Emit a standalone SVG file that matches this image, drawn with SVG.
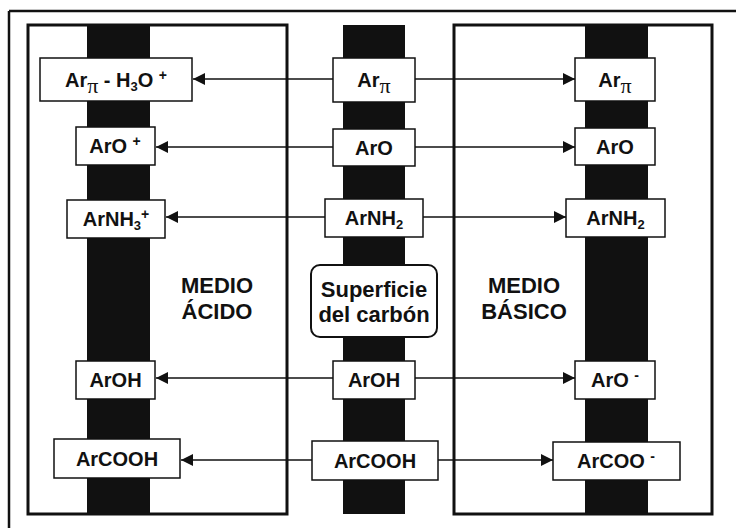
<svg xmlns="http://www.w3.org/2000/svg" width="736" height="528" viewBox="0 0 736 528">
<defs>
<style>
.bar{fill:#111}
.medio{fill:none;stroke:#111;stroke-width:3}
.box{fill:#fff;stroke:#111;stroke-width:1.5}
.t{font-family:"Liberation Sans",Arial,sans-serif;font-weight:bold;font-size:20px;fill:#111;text-anchor:middle}
.big{font-family:"Liberation Sans",Arial,sans-serif;font-weight:bold;font-size:22px;fill:#111;text-anchor:middle}
.pi{font-family:"Liberation Serif","Times New Roman",serif;font-weight:normal;font-size:22px}
.sub{font-size:13px}
.sup{font-size:14px}
.c{stroke:#111;stroke-width:1.5;fill:none;marker-end:url(#ah)}
</style>
<marker id="ah" markerUnits="userSpaceOnUse" markerWidth="12" markerHeight="12" refX="12" refY="6" orient="auto">
<path d="M0,0 L12,6 L0,12 z" fill="#111"/>
</marker>
</defs>
<rect width="736" height="528" fill="#fff"/>
<g id="frame">
<path d="M9,11 H736 M9,11 V528" stroke="#111" stroke-width="2.5" fill="none"/>
</g>
<g id="medio-acido">
<rect class="medio" x="28" y="25" width="259" height="489"/>
<rect class="bar" x="87" y="25" width="63" height="489"/>
<text class="big" x="217" y="293">MEDIO</text>
<text class="big" x="217" y="319">ÁCIDO</text>
</g>
<g id="medio-basico">
<rect class="medio" x="454" y="25" width="258" height="489"/>
<rect class="bar" x="585" y="25" width="63" height="489"/>
<text class="big" x="524" y="293">MEDIO</text>
<text class="big" x="524" y="319">BÁSICO</text>
</g>
<g id="superficie-bar">
<rect class="bar" x="343" y="25" width="62" height="489"/>
</g>
<g id="connectors">
<line class="c" x1="333" y1="79" x2="193" y2="79"/>
<line class="c" x1="415" y1="79" x2="575" y2="79"/>
<line class="c" x1="333" y1="147" x2="156" y2="147"/>
<line class="c" x1="415" y1="147" x2="575" y2="147"/>
<line class="c" x1="325" y1="217" x2="166" y2="217"/>
<line class="c" x1="423" y1="217" x2="566" y2="217"/>
<line class="c" x1="333" y1="378" x2="156" y2="378"/>
<line class="c" x1="415" y1="378" x2="575" y2="378"/>
<line class="c" x1="312" y1="460" x2="181" y2="460"/>
<line class="c" x1="438" y1="460" x2="553" y2="460"/>
</g>
<g id="left-arpi-h3o">
<rect class="box" x="40" y="58" width="152" height="43"/>
<text class="t" x="116" y="87">Ar<tspan class="pi" dy="6">π</tspan><tspan dy="-6"> - H</tspan><tspan class="sub" dy="4">3</tspan><tspan dy="-4">O </tspan><tspan class="sup" dy="-7">+</tspan></text>
</g>
<g id="left-aro">
<rect class="box" x="76" y="127" width="79" height="38"/>
<text class="t" x="115" y="153">ArO <tspan class="sup" dy="-7">+</tspan></text>
</g>
<g id="left-arnh3">
<rect class="box" x="67" y="200" width="98" height="38"/>
<text class="t" x="116" y="226">ArNH<tspan class="sub" dy="4">3</tspan><tspan class="sup" dy="-11">+</tspan></text>
</g>
<g id="left-aroh">
<rect class="box" x="76" y="361" width="79" height="38"/>
<text class="t" x="115.5" y="387">ArOH</text>
</g>
<g id="left-arcooh">
<rect class="box" x="54" y="439" width="126" height="39"/>
<text class="t" x="117" y="466">ArCOOH</text>
</g>
<g id="mid-arpi">
<rect class="box" x="333" y="58" width="82" height="44"/>
<text class="t" x="374" y="87">Ar<tspan class="pi" dy="6">π</tspan></text>
</g>
<g id="mid-aro">
<rect class="box" x="333" y="129" width="82" height="37"/>
<text class="t" x="374" y="155">ArO</text>
</g>
<g id="mid-arnh2">
<rect class="box" x="325" y="199" width="98" height="38"/>
<text class="t" x="374" y="225">ArNH<tspan class="sub" dy="4">2</tspan></text>
</g>
<g id="superficie">
<rect x="311" y="265" width="126" height="72" rx="9" fill="#fff" stroke="#111" stroke-width="2"/>
<text class="big" x="374" y="297">Superficie</text>
<text class="big" x="374" y="322">del carbón</text>
</g>
<g id="mid-aroh">
<rect class="box" x="333" y="361" width="82" height="38"/>
<text class="t" x="374" y="387">ArOH</text>
</g>
<g id="mid-arcooh">
<rect class="box" x="312" y="441" width="126" height="39"/>
<text class="t" x="375" y="468">ArCOOH</text>
</g>
<g id="right-arpi">
<rect class="box" x="575" y="58" width="80" height="43"/>
<text class="t" x="615" y="87">Ar<tspan class="pi" dy="6">π</tspan></text>
</g>
<g id="right-aro">
<rect class="box" x="575" y="128" width="80" height="37"/>
<text class="t" x="615" y="154">ArO</text>
</g>
<g id="right-arnh2">
<rect class="box" x="566" y="199" width="99" height="38"/>
<text class="t" x="615.5" y="225">ArNH<tspan class="sub" dy="4">2</tspan></text>
</g>
<g id="right-aro-minus">
<rect class="box" x="575" y="361" width="80" height="38"/>
<text class="t" x="615" y="387">ArO <tspan class="sup" dy="-7">-</tspan></text>
</g>
<g id="right-arcoo-minus">
<rect class="box" x="553" y="442" width="127" height="38"/>
<text class="t" x="616" y="468">ArCOO <tspan class="sup" dy="-7">-</tspan></text>
</g>
</svg>
